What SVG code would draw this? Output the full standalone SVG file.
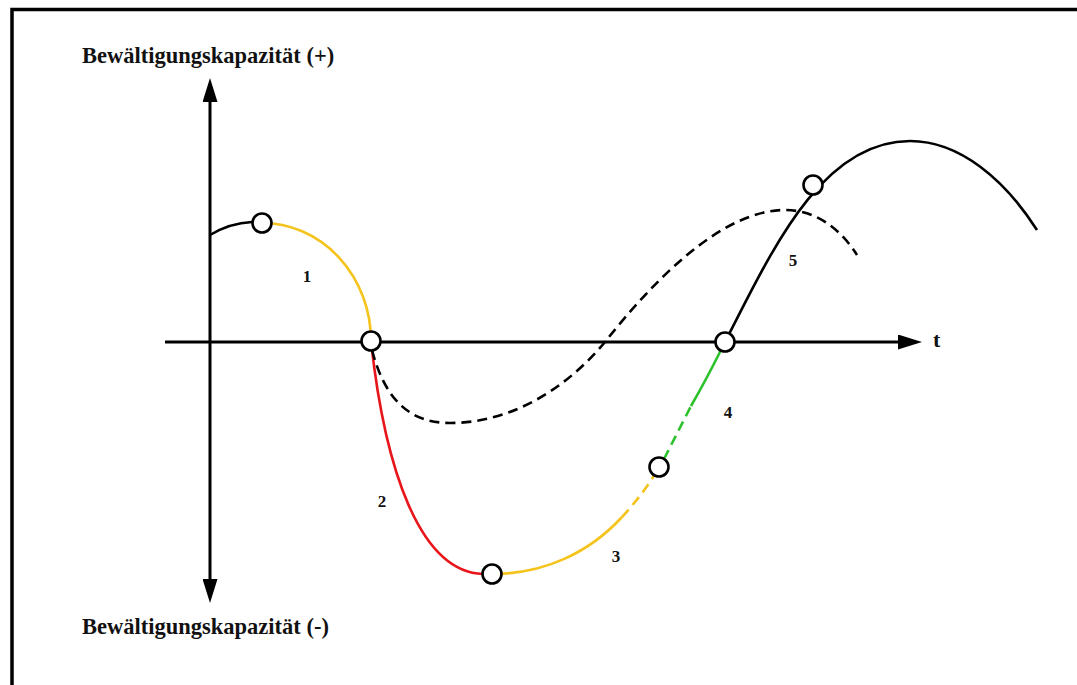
<svg xmlns="http://www.w3.org/2000/svg" width="1077" height="685" viewBox="0 0 1077 685">
<style>
.axis{stroke:#000;stroke-width:3;fill:none}
.crv{fill:none;stroke-width:2.6}
.blk{stroke:#000}
.yel{stroke:#f5c41c}
.red{stroke:#e8161b}
.grn{stroke:#2cc22c}
.dash{stroke-dasharray:10 6}
.pt{fill:#fff;stroke:#000;stroke-width:2.6}
.lbl{font-family:"Liberation Serif","Times New Roman",serif;font-weight:bold;fill:#111}
.ax{font-size:22.5px}
.num{font-size:17px;text-anchor:middle}
</style>
<defs>
<marker id="ah" markerUnits="userSpaceOnUse" markerWidth="24" markerHeight="15" refX="2" refY="7.5" orient="auto-start-reverse">
<path d="M0,0 L24,7.5 L0,15 z" fill="#000"/>
</marker>
</defs>
<rect width="1077" height="685" fill="#fff"/>
<path d="M12,685 L12,9.5 L1077,9.5" fill="none" stroke="#000" stroke-width="3.5"/>
<g id="axes">
<path class="axis" d="M210,581 L210,100" marker-start="url(#ah)" marker-end="url(#ah)"/>
<path class="axis" d="M165,342 L900,342" marker-end="url(#ah)"/>
</g>
<g id="connectors">
<path class="crv blk" d="M210,235 Q230,223 252,222"/>
<path class="crv yel" d="M262,223 A109,118 0 0 1 371,341"/>
<path class="crv red" d="M371,341 C385,470 420,572 483,574"/>
<path class="crv yel" d="M492,574 C545,574 590,552 622,517"/>
<path class="crv yel dash" d="M622,517 C635,503 648,486 655,474"/>
<path class="crv grn dash" d="M664,459 L691,406"/>
<path class="crv grn" d="M691,406 Q706,380 721,350"/>
<path class="crv blk" d="M725,342 C770,255 820,141 910,141 C960,141 1005,180 1037,230"/>
<path class="crv blk dash" d="M372,350 C385,400 410,423 450,423 C510,423 565,390 605,342 C650,285 720,210 785,210 C815,210 840,228 857,255"/>
</g>
<g id="p1"><circle class="pt" cx="262" cy="223" r="9.5"/></g>
<g id="p2"><circle class="pt" cx="371" cy="341" r="9.5"/></g>
<g id="p3"><circle class="pt" cx="492" cy="574" r="9.5"/></g>
<g id="p4"><circle class="pt" cx="659" cy="467" r="9.5"/></g>
<g id="p5"><circle class="pt" cx="725" cy="342" r="9.5"/></g>
<g id="p6"><circle class="pt" cx="813" cy="185" r="9.5"/></g>
<g id="labels">
<text class="lbl ax" x="82" y="63">Bewältigungskapazität (+)</text>
<text class="lbl ax" x="82" y="634">Bewältigungskapazität (-)</text>
<text class="lbl" x="933" y="347" font-size="22">t</text>
<text class="lbl num" x="307" y="282">1</text>
<text class="lbl num" x="382" y="507">2</text>
<text class="lbl num" x="616" y="562">3</text>
<text class="lbl num" x="728" y="418">4</text>
<text class="lbl num" x="793" y="266">5</text>
</g>
</svg>
